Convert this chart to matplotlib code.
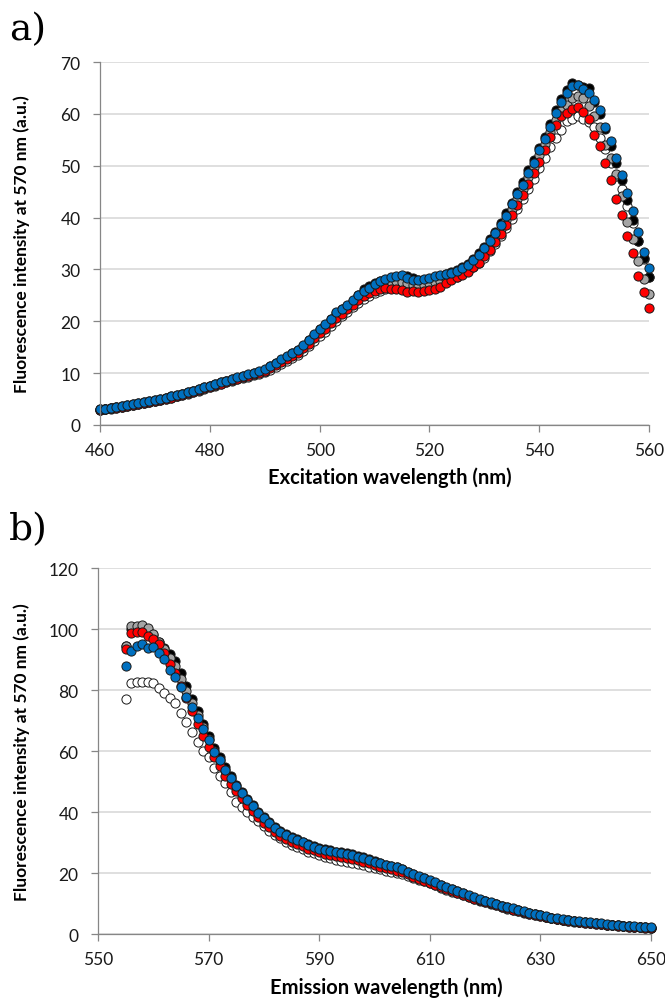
import numpy as np
import matplotlib
matplotlib.use("Agg")
import matplotlib.pyplot as plt

# ---------------- Panel a data (excitation 460-560 nm, 1 nm step) ----------------
exc_wl = np.arange(460, 561)

exc_white = [2.9, 3.0, 3.1, 3.3, 3.5, 3.6, 3.8, 4.0, 4.2, 4.4,
             4.6, 4.8, 5.0, 5.2, 5.5, 5.7, 6.0, 6.3, 6.6, 7.0,
             7.3, 7.6, 7.9, 8.2, 8.5, 8.8, 9.0, 9.3, 9.6, 9.9,
             10.2, 10.6, 11.1, 11.7, 12.3, 12.9, 13.5, 14.3, 15.2, 16.2,
             17.2, 18.0, 19.0, 20.1, 21.0, 21.8, 22.7, 23.5, 24.3, 24.9,
             25.4, 25.9, 26.2, 26.4, 26.5, 26.6, 26.5, 26.5, 26.6, 26.8,
             27.0, 27.2, 27.4, 27.8, 28.2, 28.6, 29.1, 29.7, 30.4, 31.3,
             32.3, 33.5, 34.9, 36.4, 38.0, 39.8, 41.7, 43.6, 45.6, 47.5,
             49.5, 51.4, 53.6, 55.4, 56.8, 58.6, 59.1, 59.5, 59.1, 58.5,
             57.4, 55.3, 53.2, 50.5, 48.0, 45.5, 42.3, 39.0, 35.5, 32.0, 28.5]

exc_black = [3.0, 3.1, 3.3, 3.4, 3.6, 3.8, 4.0, 4.2, 4.4, 4.6,
             4.8, 5.0, 5.2, 5.5, 5.7, 6.0, 6.3, 6.6, 6.9, 7.3,
             7.6, 7.9, 8.2, 8.5, 8.8, 9.1, 9.4, 9.7, 10.0, 10.3,
             10.7, 11.3, 11.9, 12.6, 13.2, 13.8, 14.4, 15.3, 16.3, 17.4,
             18.5, 19.3, 20.4, 21.6, 22.3, 23.0, 24.0, 25.0, 26.2, 26.8,
             27.3, 27.7, 28.0, 28.3, 28.5, 28.6, 28.8, 28.3, 28.0, 27.9,
             28.1, 28.4, 28.7, 29.1, 29.5, 29.9, 30.5, 31.1, 32.0, 33.1,
             34.4, 35.8, 37.3, 38.9, 40.8, 42.9, 44.9, 46.8, 49.1, 51.1,
             53.5, 55.6, 58.0, 60.7, 62.8, 64.6, 65.9, 65.6, 65.2, 64.9,
             62.3, 59.9, 57.0, 53.8, 50.6, 47.3, 43.4, 39.5, 35.5, 32.2, 28.6]

exc_gray = [2.9, 3.0, 3.2, 3.4, 3.5, 3.7, 3.9, 4.1, 4.3, 4.5,
            4.7, 4.9, 5.2, 5.4, 5.6, 5.9, 6.2, 6.5, 6.8, 7.2,
            7.5, 7.8, 8.1, 8.4, 8.7, 9.0, 9.3, 9.6, 9.9, 10.2,
            10.5, 11.1, 11.7, 12.3, 12.9, 13.5, 14.1, 15.0, 16.0, 17.1,
            18.1, 18.9, 20.0, 21.1, 21.9, 22.6, 23.6, 24.5, 25.3, 25.9,
            26.5, 27.0, 27.3, 27.5, 27.7, 27.6, 27.3, 27.0, 26.9, 27.0,
            27.3, 27.6, 27.8, 28.2, 28.6, 29.0, 29.6, 30.2, 31.1, 32.1,
            33.3, 34.7, 36.2, 37.8, 39.6, 41.6, 43.6, 45.5, 47.8, 49.7,
            52.0, 54.2, 56.5, 58.8, 60.5, 61.8, 63.0, 63.5, 63.0, 61.5,
            59.5, 57.4, 54.0, 51.4, 48.4, 44.2, 39.2, 35.8, 31.7, 28.1, 25.2]

exc_red = [2.9, 3.0, 3.2, 3.3, 3.5, 3.7, 3.9, 4.1, 4.3, 4.5,
           4.7, 4.9, 5.1, 5.3, 5.5, 5.8, 6.1, 6.4, 6.7, 7.1,
           7.4, 7.7, 8.0, 8.3, 8.6, 8.9, 9.2, 9.5, 9.8, 10.1,
           10.4, 10.9, 11.5, 12.1, 12.7, 13.3, 13.9, 14.8, 15.7, 16.8,
           17.8, 18.6, 19.6, 20.7, 21.5, 22.3, 23.2, 24.1, 24.9, 25.4,
           25.9, 26.3, 26.4, 26.3, 26.2, 26.0, 25.7, 25.8, 25.7, 25.8,
           26.0, 26.3, 26.7, 27.3, 27.9, 28.5, 29.0, 29.6, 30.4, 31.3,
           32.5, 33.8, 35.2, 36.8, 38.5, 40.4, 42.4, 44.3, 46.4, 48.5,
           50.8, 53.0, 55.5, 57.8, 59.6, 60.1, 61.0, 61.3, 60.3, 59.0,
           56.0, 53.8, 50.5, 47.3, 43.5, 40.5, 36.4, 33.1, 28.7, 25.6, 22.5]

exc_blue = [3.0, 3.1, 3.3, 3.4, 3.6, 3.8, 4.0, 4.2, 4.4, 4.6,
            4.8, 5.0, 5.3, 5.5, 5.7, 6.0, 6.3, 6.6, 7.0, 7.3,
            7.6, 7.9, 8.2, 8.5, 8.9, 9.2, 9.5, 9.8, 10.1, 10.4,
            10.8, 11.4, 12.0, 12.7, 13.3, 13.9, 14.5, 15.4, 16.4, 17.5,
            18.6, 19.4, 20.5, 21.7, 22.4, 23.1, 24.1, 25.0, 25.8, 26.5,
            27.2, 27.8, 28.2, 28.5, 28.8, 28.9, 28.3, 28.0, 28.0, 28.1,
            28.3, 28.7, 28.9, 29.2, 29.4, 29.7, 30.3, 30.8, 31.8, 32.8,
            34.1, 35.5, 37.0, 38.6, 40.3, 42.6, 44.5, 46.3, 48.6, 50.6,
            53.0, 55.1, 57.5, 60.2, 62.2, 64.1, 65.3, 65.5, 64.7, 64.1,
            62.7, 60.8, 57.4, 54.7, 51.4, 48.2, 44.7, 41.2, 37.2, 33.3, 30.2]

# ---------------- Panel b data (emission 555-650 nm, 1 nm step) ----------------
em_wl = np.arange(555, 651)

em_white = [77.0, 82.4, 82.6, 82.6, 82.6, 82.4, 80.8, 79.1, 77.5, 75.7,
            72.6, 69.7, 66.4, 62.9, 59.9, 58.0, 54.5, 51.7, 49.5, 46.6,
            43.5, 41.8, 40.0, 38.5, 37.0, 35.5, 34.0, 32.6, 31.4, 30.3,
            29.3, 28.5, 27.8, 27.1, 26.5, 25.9, 25.4, 24.9, 24.5, 24.1,
            23.8, 23.5, 23.1, 22.7, 22.2, 21.8, 21.3, 20.9, 20.5, 20.1,
            19.7, 19.1, 18.5, 17.9, 17.3, 16.7, 16.0, 15.3, 14.6, 14.0,
            13.4, 12.8, 12.2, 11.5, 11.0, 10.5, 10.0, 9.5, 8.9, 8.4,
            8.0, 7.5, 7.1, 6.7, 6.3, 5.9, 5.6, 5.2, 4.9, 4.6,
            4.4, 4.1, 3.9, 3.7, 3.6, 3.4, 3.3, 3.0, 2.9, 2.7,
            2.6, 2.5, 2.4, 2.3, 2.2, 2.0]

em_black = [94.3, 100.0, 100.6, 100.8, 99.8, 98.2, 95.8, 93.8, 91.8, 89.6,
            85.5, 81.5, 77.0, 73.0, 69.0, 65.0, 61.0, 58.0, 54.8, 52.0,
            49.0, 46.5, 44.3, 42.2, 40.2, 38.4, 36.7, 35.1, 33.8, 32.7,
            31.8, 31.1, 30.4, 29.7, 29.0, 28.4, 27.9, 27.5, 27.1, 26.8,
            26.5, 26.2, 25.7, 25.2, 24.6, 24.0, 23.4, 22.8, 22.3, 21.9,
            21.3, 20.4, 19.6, 18.9, 18.3, 17.6, 16.9, 16.1, 15.3, 14.7,
            14.1, 13.4, 12.7, 12.0, 11.4, 10.9, 10.4, 9.9, 9.3, 8.8,
            8.4, 7.9, 7.4, 6.9, 6.5, 6.2, 5.8, 5.4, 5.1, 4.8,
            4.6, 4.3, 4.1, 3.9, 3.8, 3.6, 3.5, 3.2, 3.0, 2.9,
            2.7, 2.6, 2.5, 2.4, 2.3, 2.2]

em_gray = [94.6, 100.9, 101.1, 101.3, 100.3, 98.4, 95.6, 93.4, 90.5, 88.0,
           83.8, 79.8, 75.8, 71.8, 68.0, 64.0, 60.2, 57.0, 53.8, 51.0,
           47.9, 45.5, 43.3, 41.2, 39.2, 37.4, 35.7, 34.1, 32.8, 31.7,
           30.8, 30.1, 29.4, 28.7, 28.0, 27.4, 26.9, 26.5, 26.1, 25.8,
           25.5, 25.2, 24.8, 24.3, 23.8, 23.2, 22.7, 22.2, 21.8, 21.4,
           20.9, 20.1, 19.3, 18.6, 18.0, 17.3, 16.6, 15.9, 15.1, 14.5,
           13.9, 13.2, 12.5, 11.8, 11.3, 10.8, 10.3, 9.8, 9.2, 8.7,
           8.3, 7.8, 7.3, 6.9, 6.5, 6.2, 5.8, 5.4, 5.1, 4.8,
           4.6, 4.3, 4.1, 3.9, 3.8, 3.6, 3.5, 3.2, 3.0, 2.9,
           2.7, 2.6, 2.5, 2.4, 2.3, 2.2]

em_red = [93.5, 98.7, 98.9, 98.9, 97.8, 96.9, 95.0, 92.0, 88.5, 85.5,
          81.5, 77.5, 73.0, 69.0, 65.0, 61.5, 58.0, 55.0, 52.0, 49.3,
          46.8, 44.5, 42.3, 40.3, 38.4, 36.6, 35.0, 33.5, 32.2, 31.1,
          30.2, 29.5, 28.8, 28.1, 27.5, 26.9, 26.4, 26.0, 25.6, 25.3,
          25.0, 24.7, 24.3, 23.8, 23.3, 22.8, 22.2, 21.7, 21.3, 20.9,
          20.4, 19.6, 18.9, 18.2, 17.6, 16.9, 16.2, 15.5, 14.8, 14.2,
          13.6, 12.9, 12.3, 11.6, 11.1, 10.6, 10.1, 9.6, 9.0, 8.5,
          8.1, 7.6, 7.2, 6.8, 6.4, 6.0, 5.6, 5.3, 5.0, 4.7,
          4.5, 4.2, 4.0, 3.8, 3.7, 3.5, 3.4, 3.1, 2.9, 2.8,
          2.6, 2.5, 2.4, 2.3, 2.2, 2.0]

em_blue = [87.9, 92.9, 94.5, 95.1, 93.7, 94.0, 92.3, 90.1, 86.5, 84.3,
           80.9, 77.6, 74.5, 70.7, 67.4, 63.6, 59.8, 57.0, 53.9, 51.2,
           48.6, 46.2, 44.0, 41.9, 39.9, 38.1, 36.4, 34.8, 33.5, 32.4,
           31.5, 30.8, 30.1, 29.4, 28.7, 28.1, 27.6, 27.2, 26.8, 26.5,
           26.2, 25.9, 25.4, 24.9, 24.4, 23.8, 23.2, 22.7, 22.3, 21.9,
           21.4, 20.5, 19.7, 19.0, 18.4, 17.7, 17.0, 16.2, 15.4, 14.8,
           14.2, 13.5, 12.8, 12.1, 11.5, 11.0, 10.5, 10.0, 9.4, 8.9,
           8.5, 8.0, 7.5, 7.0, 6.6, 6.3, 5.9, 5.5, 5.2, 4.9,
           4.7, 4.4, 4.2, 4.0, 3.9, 3.7, 3.6, 3.3, 3.1, 3.0,
           2.8, 2.7, 2.6, 2.5, 2.4, 2.3]

series_colors = {"white": "#FFFFFF", "black": "#000000", "gray": "#A5A5A5",
                 "red": "#FF0000", "blue": "#0070C0"}

exc_ticks = [460, 480, 500, 520, 540, 560]
exc_yticks = [0, 10, 20, 30, 40, 50, 60, 70]
em_ticks = [550, 570, 590, 610, 630, 650]
em_yticks = [0, 20, 40, 60, 80, 100, 120]

plt.rcParams['font.family'] = ['Lato', 'DejaVu Sans']

fig = plt.figure(figsize=(6.65, 10.03), dpi=100)
W, H = 665.0, 1003.0

def make_axes(left, right, top, bottom):
    return fig.add_axes([left / W, 1 - bottom / H, (right - left) / W, (bottom - top) / H])

ax1 = make_axes(100, 649, 63, 426)
ax2 = make_axes(98, 651, 569, 935.3)

def style(ax, xlim, ylim, xt, yt, xlabel, xlab_x, ylab_x):
    ax.set_xlim(*xlim)
    ax.set_ylim(*ylim)
    ax.set_xticks(xt)
    ax.set_yticks(yt)
    ax.grid(axis='y', color='#D9D9D9', linewidth=1.2)
    ax.set_axisbelow(True)
    for s in ['top', 'right']:
        ax.spines[s].set_visible(False)
    for s in ['left', 'bottom']:
        ax.spines[s].set_color('#868686')
        ax.spines[s].set_linewidth(0.9)
    ax.tick_params(axis='both', direction='out', length=5, width=0.9,
                   color='#868686', labelsize=12.5, labelcolor='#1a1a1a')
    ax.tick_params(axis='x', pad=7)
    ax.tick_params(axis='y', pad=9)
    ax.set_xlabel(xlabel, fontsize=14.5, fontweight='bold')
    ax.set_ylabel('Fluorescence intensity at 570 nm (a.u.)', fontsize=12.5,
                  fontweight='bold')
    ax.xaxis.set_label_coords(xlab_x, -0.115)
    ax.yaxis.set_label_coords(ylab_x, 0.5)

def draw(ax, x, sets):
    for vals, col in sets:
        ax.plot(x, vals, linestyle='none', marker='o', markersize=6.6,
                markerfacecolor=col, markeredgecolor='#1a1a1a',
                markeredgewidth=0.7, clip_on=False)

draw(ax1, exc_wl, [(exc_white, series_colors["white"]), (exc_black, series_colors["black"]),
                   (exc_gray, series_colors["gray"]), (exc_red, series_colors["red"]),
                   (exc_blue, series_colors["blue"])])
draw(ax2, em_wl, [(em_white, series_colors["white"]), (em_black, series_colors["black"]),
                  (em_gray, series_colors["gray"]), (em_red, series_colors["red"]),
                  (em_blue, series_colors["blue"])])

style(ax1, (460, 560), (0, 70), exc_ticks, exc_yticks, 'Excitation wavelength (nm)',
      0.528, -0.127)
style(ax2, (550, 650), (0, 120), em_ticks, em_yticks, 'Emission wavelength (nm)',
      0.521, -0.123)

fig.text(9 / W, 1 - 30 / H, 'a)', fontsize=27, family=['DejaVu Serif'], va='center', ha='left')
fig.text(9 / W, 1 - 530 / H, 'b)', fontsize=27, family=['DejaVu Serif'], va='center', ha='left')

fig.savefig('out.png', dpi=100)
